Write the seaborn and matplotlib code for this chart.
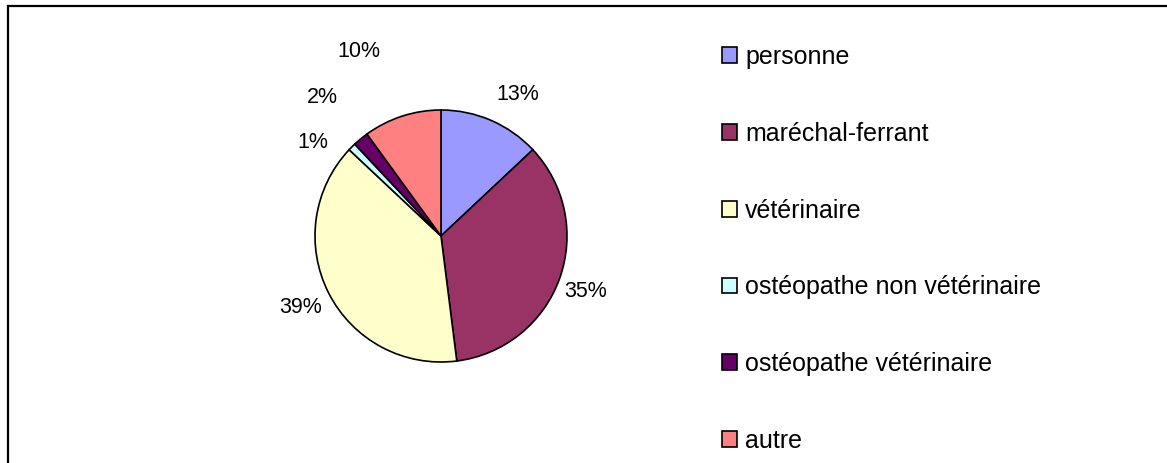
import matplotlib
matplotlib.use("Agg")
import matplotlib.pyplot as plt
from matplotlib.patches import Patch, Rectangle
import numpy as np
import seaborn as sns

# Who is consulted (share of answers, %)
categories = ["personne", "maréchal-ferrant", "vétérinaire",
              "ostéopathe non vétérinaire", "ostéopathe vétérinaire", "autre"]
shares = [13, 35, 39, 1, 2, 10]
colors = ["#9999FF", "#993366", "#FFFFCC", "#CCFFFF", "#660066", "#FF8080"]

# label placement: radial distance (in radii) and angular nudge (degrees, clockwise)
label_dist = [1.28, 1.23, 1.25, 1.26, 1.45, 1.60]
label_nudge = [5, 1, 0, -9, -1, -6]

sns.set_theme(style="white")
plt.rcParams["font.family"] = ["Liberation Sans", "DejaVu Sans"]
plt.rcParams["text.color"] = "black"

W, H = 1167, 463
fig = plt.figure(figsize=(W / 100, H / 100), dpi=100)
fig.patch.set_facecolor("white")

# pie axes: centre (441, 236) px, radius 126 px, limits +-1.6 radius
R_PX = 126
lim = 1.6
cx, cy = 441, 236
side = 2 * lim * R_PX
ax = fig.add_axes([(cx - side / 2) / W, (H - cy - side / 2) / H, side / W, side / H])

wedges, _ = ax.pie(shares, colors=colors, startangle=90, counterclock=False,
                   radius=1.0, wedgeprops=dict(edgecolor="black", linewidth=1.2))
ax.set_xlim(-lim, lim)
ax.set_ylim(-lim, lim)
ax.set_aspect("equal")
ax.axis("off")

total = float(sum(shares))
cum = np.cumsum([0] + shares[:-1])
for s, c, d, nudge in zip(shares, cum, label_dist, label_nudge):
    mid = (c + s / 2) / total * 360 + nudge   # clockwise from 12 o'clock
    ang = np.deg2rad(mid)
    ax.text(d * np.sin(ang), d * np.cos(ang), f"{s}%", ha="center", va="center",
            fontsize=15.5, color="black")

handles = [Patch(facecolor=col, edgecolor="black", linewidth=1.2) for col in colors]
leg = fig.legend(handles, categories, loc="upper left",
                 bbox_to_anchor=(722 / W, 1 - 45 / H), bbox_transform=fig.transFigure,
                 frameon=False, fontsize=18, handlelength=0.6, handleheight=0.6,
                 handletextpad=0.32, labelspacing=2.11, borderpad=0, borderaxespad=0)
for t in leg.get_texts():
    t.set_color("black")

# chart frame (open to the right and bottom)
fig.patches.append(Rectangle((7.5 / W, -0.1), 1.5, 1.1 - 5.5 / H,
                             transform=fig.transFigure, fill=False,
                             edgecolor="black", linewidth=1.6, clip_on=False))

fig.savefig("out.png", dpi=100, facecolor="white")
